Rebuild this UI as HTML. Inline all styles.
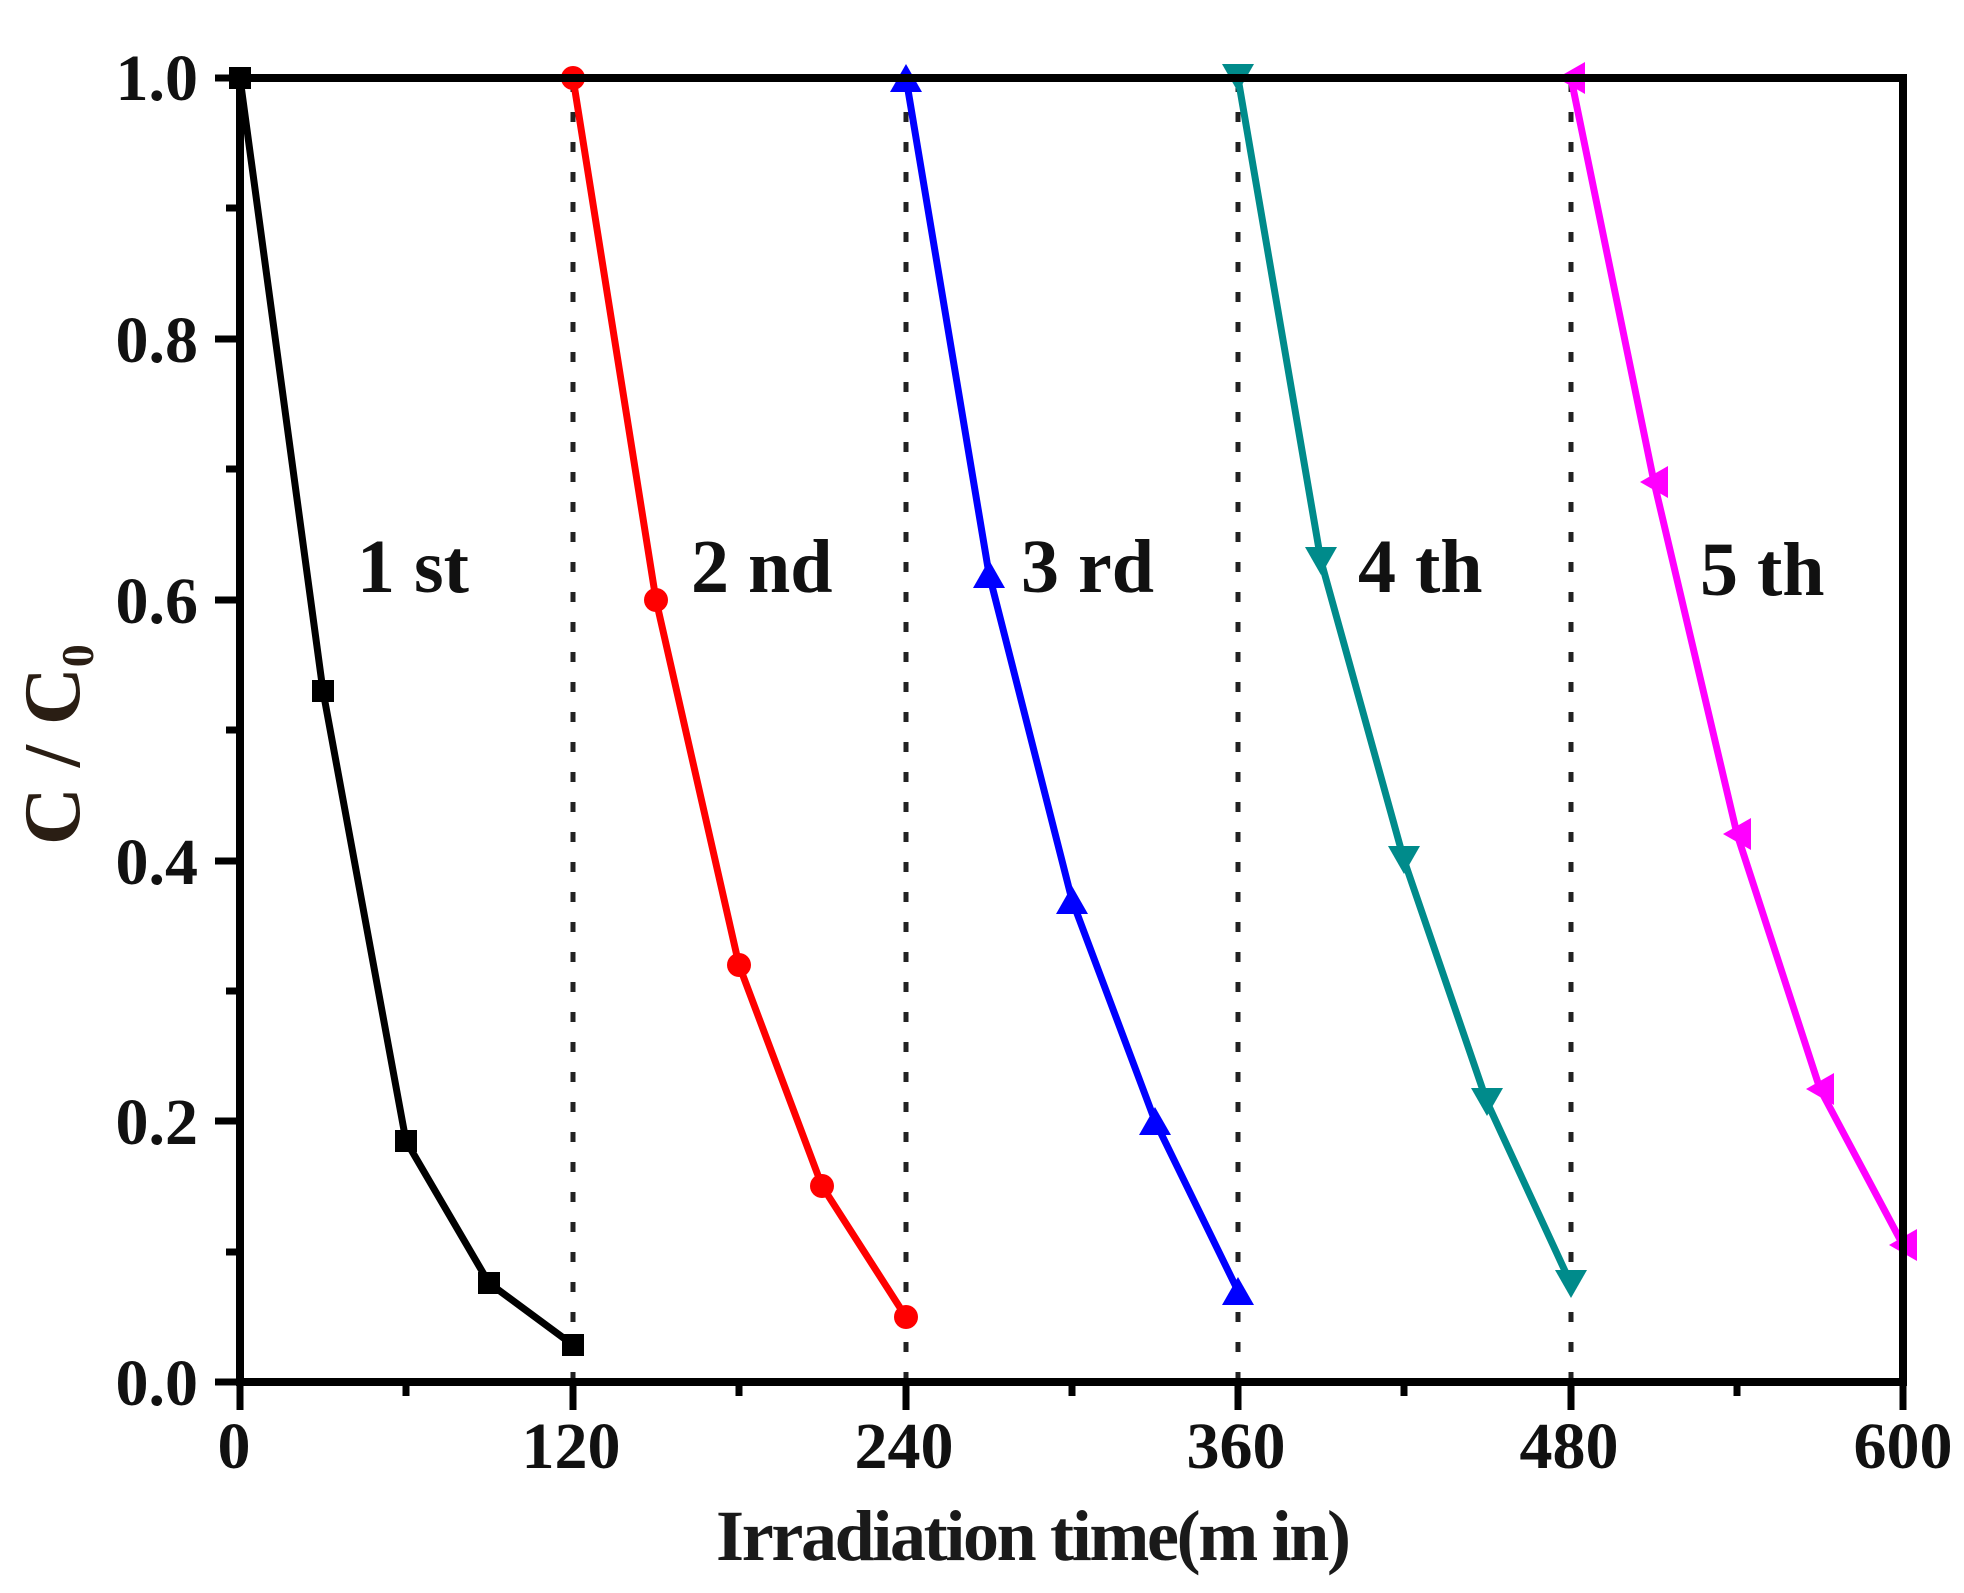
<!DOCTYPE html>
<html><head><meta charset="utf-8"><style>html,body{margin:0;padding:0;background:#fff}svg{display:block}</style></head>
<body>
<svg xmlns="http://www.w3.org/2000/svg" width="1964" height="1593" viewBox="0 0 1964 1593" font-family="Liberation Serif, serif" font-weight="bold">
<rect width="1964" height="1593" fill="#fff"/>
<g stroke="#222" stroke-width="5" stroke-dasharray="10 20">
<line x1="573" y1="1382" x2="573" y2="78"/>
<line x1="906" y1="1382" x2="906" y2="78"/>
<line x1="1238" y1="1382" x2="1238" y2="78"/>
<line x1="1571" y1="1382" x2="1571" y2="78"/>
</g>
<g fill="none" stroke-width="7" stroke-linejoin="round">
<polyline stroke="#000" points="240,78 323,691 406,1141 489,1283 573,1345"/>
<polyline stroke="#ff0000" points="573,78 656,600 739,965 822,1186 906,1317"/>
<polyline stroke="#0000ff" points="906,78 989,574 1072,900 1155,1121 1238,1291"/>
<polyline stroke="#008b8b" points="1238,78 1321,561 1404,860 1487,1102 1571,1284"/>
<polyline stroke="#ff00ff" points="1571,78 1654,482 1737,834 1820,1089 1903,1245"/>
</g>
<g fill="#000">
<rect x="229" y="67" width="22" height="22"/><rect x="312" y="680" width="22" height="22"/><rect x="395" y="1130" width="22" height="22"/><rect x="478" y="1272" width="22" height="22"/><rect x="562" y="1334" width="22" height="22"/>
</g>
<g fill="#ff0000">
<circle cx="573" cy="78" r="12"/><circle cx="656" cy="600" r="12"/><circle cx="739" cy="965" r="12"/><circle cx="822" cy="1186" r="12"/><circle cx="906" cy="1317" r="12"/>
</g>
<g fill="#0000ff">
<path d="M906,64 l16,28 h-32z"/><path d="M989,560 l16,28 h-32z"/><path d="M1072,886 l16,28 h-32z"/><path d="M1155,1107 l16,28 h-32z"/><path d="M1238,1277 l16,28 h-32z"/>
</g>
<g fill="#008b8b">
<path d="M1238,92 l16,-28 h-32z"/><path d="M1321,575 l16,-28 h-32z"/><path d="M1404,874 l16,-28 h-32z"/><path d="M1487,1116 l16,-28 h-32z"/><path d="M1571,1298 l16,-28 h-32z"/>
</g>
<g fill="#ff00ff">
<path d="M1557,78 l28,-16 v32z"/><path d="M1640,482 l28,-16 v32z"/><path d="M1723,834 l28,-16 v32z"/><path d="M1806,1089 l28,-16 v32z"/><path d="M1889,1245 l28,-16 v32z"/>
</g>
<rect x="240" y="78" width="1663" height="1304" fill="none" stroke="#000" stroke-width="8"/>
<g stroke="#000" stroke-width="7">
<line x1="240" y1="1382" x2="240" y2="1410"/><line x1="573" y1="1382" x2="573" y2="1410"/><line x1="906" y1="1382" x2="906" y2="1410"/><line x1="1238" y1="1382" x2="1238" y2="1410"/><line x1="1571" y1="1382" x2="1571" y2="1410"/><line x1="1903" y1="1382" x2="1903" y2="1410"/>
<line x1="406" y1="1382" x2="406" y2="1396"/><line x1="739" y1="1382" x2="739" y2="1396"/><line x1="1072" y1="1382" x2="1072" y2="1396"/><line x1="1404" y1="1382" x2="1404" y2="1396"/><line x1="1737" y1="1382" x2="1737" y2="1396"/>
<line x1="215" y1="1382" x2="240" y2="1382"/><line x1="215" y1="1121" x2="240" y2="1121"/><line x1="215" y1="861" x2="240" y2="861"/><line x1="215" y1="600" x2="240" y2="600"/><line x1="215" y1="339" x2="240" y2="339"/><line x1="215" y1="78" x2="240" y2="78"/>
<line x1="226" y1="1252" x2="240" y2="1252"/><line x1="226" y1="991" x2="240" y2="991"/><line x1="226" y1="730" x2="240" y2="730"/><line x1="226" y1="469" x2="240" y2="469"/><line x1="226" y1="208" x2="240" y2="208"/>
</g>
<g font-size="66" fill="#111" text-anchor="end">
<text x="198" y="1405">0.0</text><text x="198" y="1144">0.2</text><text x="198" y="884">0.4</text><text x="198" y="623">0.6</text><text x="198" y="362">0.8</text><text x="198" y="100">1.0</text>
</g>
<g font-size="66" fill="#111" text-anchor="middle">
<text x="234" y="1468">0</text><text x="571" y="1468">120</text><text x="904" y="1468">240</text><text x="1236" y="1468">360</text><text x="1569" y="1468">480</text><text x="1903" y="1468">600</text>
</g>
<g font-size="76" fill="#111">
<text x="357" y="592">1 st</text><text x="691" y="592">2 nd</text><text x="1021" y="592">3 rd</text><text x="1358" y="592">4 th</text><text x="1700" y="595">5 th</text>
</g>
<text x="716" y="1560" font-size="72" fill="#1a1a1a" textLength="635" lengthAdjust="spacing">Irradiation time(m in)</text>
<text transform="translate(79,845) rotate(-90)" font-size="80" fill="#2a1e14">C / C<tspan font-size="46" dy="14">0</tspan></text>
</svg>
</body></html>
